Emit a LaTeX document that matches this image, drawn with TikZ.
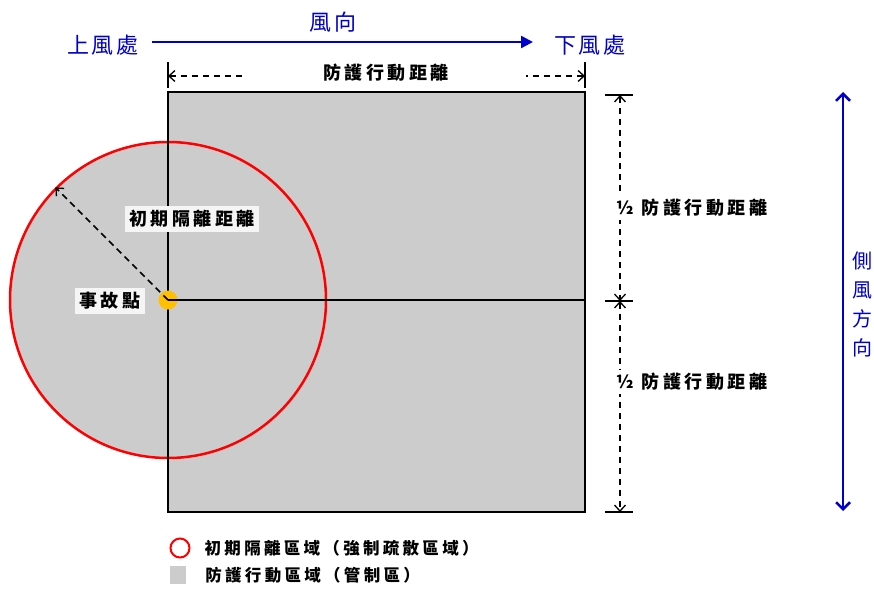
\documentclass[tikz,border=0pt]{standalone}
\usepackage{fontspec}
\newfontfamily\cjk[LetterSpace=20]{Noto Sans CJK TC}
\newfontfamily\cjkwind[LetterSpace=12]{Noto Sans CJK TC}
\usetikzlibrary{positioning, arrows.meta}

\definecolor{windblue}{RGB}{0,0,204}
\definecolor{zonegray}{RGB}{204,204,204}
\definecolor{spotyellow}{RGB}{255,192,0}

\tikzset{
  windtext/.style={text=windblue, inner sep=1pt, font=\cjkwind\fontsize{22}{24}\selectfont},
  windarrow/.style={draw=windblue, line width=2.5pt},
  labelfont/.style={font=\cjk\bfseries\fontsize{18}{20}\selectfont},
  tag/.style={labelfont, fill=black!4, inner sep=4pt},
  legtext/.style={inner sep=0pt, font=\cjk\bfseries\fontsize{16.5}{18}\selectfont},
  dimline/.style={line width=1.5pt, dash pattern=on 6.5pt off 4.5pt},
  tickline/.style={line width=1.3pt},
  dimtip/.tip={Straight Barb[length=6pt, width=11pt, line width=1.3pt]},
}

\begin{document}
\begin{tikzpicture}[x=1pt, y=-1pt]
  \useasboundingbox (0,0) rectangle (874,590);

  % zones
  \node[fill=zonegray, minimum width=417, minimum height=420, inner sep=0] (zone) at (376.5,302) {};
  \node[circle, fill=zonegray, draw=red, line width=2.5pt, minimum size=316, inner sep=0] (iso) at (168,300) {};
  \draw[line width=1.5pt] (zone.north west) rectangle (zone.south east);
  \node[circle, fill=spotyellow, minimum size=19, inner sep=0] (spot) at (iso.center) {};
  \draw[line width=1.5pt] (spot.center) -- (spot.center -| zone.east);
  \draw[dimline, -{dimtip}] (spot.center) -- (iso.135);
  \node[tag] (dist) at (192,219) {初期隔離距離};
  \node[tag] (spotlabel) at (110,301) {事故點};

  % wind direction
  \node[windtext] (up) at (103,45) {上風處};
  \node[windtext] (down) at (590,45) {下風處};
  \coordinate (w1) at (152,42);
  \coordinate (w2) at (533,42);
  \draw[windarrow, -{Triangle[length=12pt, width=12pt]}] (w1) -- (w2);
  \node[windtext] (wind) at (333,22) {風向};

  % protective distance (downwind)
  \coordinate (pl) at (168,76);
  \coordinate (pr) at (585,76);
  \draw[tickline] ([yshift=14pt]pl) -- ([yshift=-12pt]pl);
  \draw[tickline] ([yshift=14pt]pr) -- ([yshift=-12pt]pr);
  \draw[dimline, {dimtip}-{dimtip}] (pl) -- (pr);
  \node[labelfont, fill=white, minimum width=280, inner sep=0] (pad) at (386,73) {防護行動距離};

  % half distances (crosswind)
  \coordinate (s1) at (620,95);
  \coordinate (s2) at (620,301);
  \coordinate (s3) at (620,512);
  \foreach \s in {s1, s2, s3}
    \draw[tickline] ([xshift=-15pt]\s) -- ([xshift=13pt]\s);
  \draw[dimline, {dimtip}-{dimtip}] (s1) -- (s2);
  \draw[dimline, {dimtip}-{dimtip}] (s2) -- (s3);
  \node[labelfont, fill=white, anchor=west, inner sep=3pt] (half1) at (613,208) {½ 防護行動距離};
  \node[labelfont, fill=white, anchor=west, inner sep=3pt] (half2) at (613,382) {½ 防護行動距離};

  % crosswind
  \coordinate (c1) at (843,92);
  \coordinate (c2) at (843,511);
  \draw[windarrow, {Straight Barb[length=7pt, width=14pt]}-{Straight Barb[length=7pt, width=14pt]}] (c1) -- (c2);
  \node[text=windblue, align=center, font=\cjkwind\fontsize{20}{29}\selectfont] (cross) at (862,304) {側\\風\\方\\向};

  % legend
  \node[circle, draw=red, line width=2pt, minimum size=19, inner sep=0] (leg1) at (180,548) {};
  \node[legtext, right=14pt of leg1] (legtext1) {初期隔離區域（強制疏散區域）};
  \node[fill=zonegray, minimum width=16, minimum height=18, inner sep=0] (leg2) at (178,575) {};
  \node[legtext, right=19pt of leg2] (legtext2) {防護行動區域（管制區）};
\end{tikzpicture}
\end{document}
